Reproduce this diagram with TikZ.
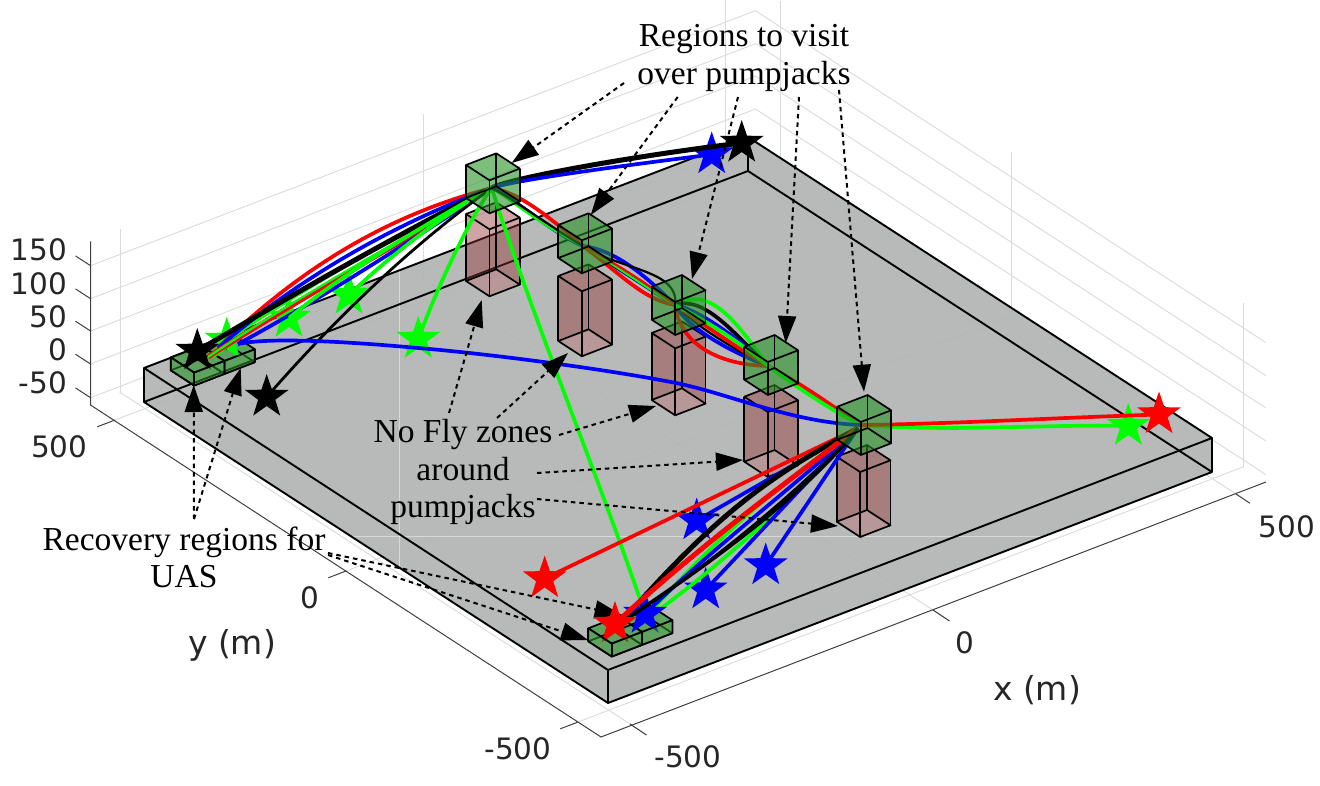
\documentclass[tikz,border=0pt]{standalone}
\usepackage{fontspec}
\setmainfont{Liberation Serif}
\newfontfamily\labfont{DejaVu Sans}
\usetikzlibrary{arrows.meta,shapes.geometric}
\definecolor{gridc}{gray}{0.86}
\definecolor{axisc}{gray}{0.25}
\definecolor{labc}{gray}{0.15}
\definecolor{slabc}{RGB}{178,181,180}
\definecolor{cubec}{RGB}{34,146,34}
\definecolor{nofly}{RGB}{145,50,50}
\definecolor{pureg}{RGB}{0,255,0}
\definecolor{purer}{RGB}{255,0,0}
\definecolor{pureb}{RGB}{0,0,255}
\tikzset{
  gridline/.style={gridc,line width=0.9pt},
  axisline/.style={axisc,line width=1pt},
  slabedge/.style={black,line width=1.9pt,line join=round},
  boxedge/.style={black,line width=1.7pt,line join=round},
  traj/.style={line width=3.7pt},
  thintraj/.style={line width=2.2pt},
  thicktraj/.style={line width=5pt},
  starmark/.style={star,star points=5,star point ratio=2.55,minimum size=46pt,inner sep=0pt,outer sep=0pt,fill=#1},
  ann/.style={black,line width=2pt,dash pattern=on 4.5pt off 4pt,-{Triangle[length=27pt,width=18pt]}},
  serifnote/.style={font=\fontsize{33.5}{37.5}\selectfont,align=center,inner sep=0pt,text=black},
  ticklab/.style={font=\labfont\fontsize{29.5}{29.5}\selectfont,text=labc,inner sep=0pt},
  axlab/.style={font=\labfont\fontsize{33}{33}\selectfont,text=labc,inner sep=0pt}
}
% prism: left-top vertex x,y, height
\newcommand{\prismhull}[5]{\fill[#4,opacity=#5] (#1,#2) -- ++(30.3,-11.7) -- ++(23.5,15.3) -- ++(0,#3) -- ++(-30.3,11.7) -- ++(-23.5,-15.3) -- cycle;}
\newcommand{\prismtop}[4]{\fill[#3,opacity=#4] (#1,#2) -- ++(30.3,-11.7) -- ++(23.5,15.3) -- ++(-30.3,11.7) -- cycle;}
\newcommand{\prismfront}[5]{\fill[#4,opacity=#5] (#1,#2) -- ++(23.5,15.3) -- ++(30.3,-11.7) -- ++(0,#3) -- ++(-30.3,11.7) -- ++(-23.5,-15.3) -- cycle;}
\newcommand{\prismright}[5]{\fill[#4,opacity=#5] ({#1+23.5},{#2+15.3}) -- ++(30.3,-11.7) -- ++(0,#3) -- ++(-30.3,11.7) -- cycle;}
\newcommand{\prismbase}[3]{\fill[white,opacity=0.2] (#1,{#2+#3}) -- ++(30.3,-11.7) -- ++(23.5,15.3) -- ++(-30.3,11.7) -- cycle;}
\newcommand{\prismedges}[3]{%
  \draw[boxedge] (#1,#2) -- ++(30.3,-11.7) -- ++(23.5,15.3) -- ++(-30.3,11.7) -- cycle;
  \draw[boxedge] (#1,{#2+#3}) -- ++(30.3,-11.7) -- ++(23.5,15.3) -- ++(-30.3,11.7) -- cycle;
  \draw[boxedge] (#1,#2) -- ++(0,#3);
  \draw[boxedge] ({#1+30.3},{#2-11.7}) -- ++(0,#3);
  \draw[boxedge] ({#1+53.8},{#2+3.6}) -- ++(0,#3);
  \draw[boxedge] ({#1+23.5},{#2+15.3}) -- ++(0,#3);
}
\newcommand{\prismfrontedges}[3]{%
  \draw[boxedge] (#1,#2) -- ++(23.5,15.3) -- ++(30.3,-11.7) -- ++(0,#3) -- ++(-30.3,11.7) -- ++(-23.5,-15.3) -- cycle;
  \draw[boxedge] ({#1+23.5},{#2+15.3}) -- ++(0,#3);
}
\newcommand{\prismrightedges}[3]{%
  \draw[boxedge] ({#1+23.5},{#2+15.3}) -- ++(30.3,-11.7) -- ++(0,#3) -- ++(-30.3,11.7) -- cycle;
}
\begin{document}
\begin{tikzpicture}[x=1pt,y=-1pt]
\useasboundingbox (0,0) rectangle (1320,786);
\fill[white] (0,0) rectangle (1320,786);
% ---- grid: walls
\foreach \zz in {265.7,298.7,331,364,397.7}{
  \draw[gridline] (90.5,\zz) -- ++(665,-255) -- ++(510.5,332);
}
\foreach \vx/\vy in {120/393,423/278,725.5/162,1243/467,1011/316,780/165}{
  \draw[gridline] (\vx,\vy) -- ++(0,-164);
}
% ---- grid: floor
\foreach \fx/\fy in {630/724,933/610,1236/494}{
  \draw[gridline] (\fx,\fy) -- ++(-510.5,-332);
}
\foreach \fx/\fy in {578/722,346/571,115/420}{
  \draw[gridline] (\fx,\fy) -- ++(665,-255);
}
% ---- axes
\draw[axisline] (90.5,241.5) -- (90.5,405) -- (601,737) -- (1266,482);
\foreach \ty in {265.7,298.7,331,364,397.7}{
  \draw[axisline] (90.5,\ty) -- ++(-15,-9.8);
}
\draw[axisline] (115,420) -- ++(-17.7,6.8);
\draw[axisline] (346,571) -- ++(-17.7,6.8);
\draw[axisline] (578,722) -- ++(-17.7,6.8);
\draw[axisline] (630,724) -- ++(16.5,11);
\draw[axisline] (933,610) -- ++(16.5,11);
\draw[axisline] (1236,494) -- ++(14,9.3);
% ---- slab
\fill[slabc,opacity=0.93] (144,368) -- (748,137) -- (1212,438) -- (1212,472) -- (608,703) -- (144,402) -- cycle;
\draw[white,opacity=0.45,line width=1pt] (399,270) -- (399,568);
\draw[white,opacity=0.45,line width=1pt] (350,536) -- (1045,536);
\draw[slabedge] (144,368) -- (748,137) -- (1212,438) -- (608,670) -- cycle;
\draw[slabedge] (144,402) -- (748,171) -- (1212,472) -- (608,703) -- cycle;
\draw[slabedge] (144,368) -- (144,402);
\draw[slabedge] (748,137) -- (748,171);
\draw[slabedge] (1212,438) -- (1212,472);
\draw[slabedge] (608,670) -- (608,703);
% ---- no fly prisms
\foreach \px/\py/\ph in {466/214/67,558.3/276/65,651.7/333/67,744.3/396.7/65,836.7/456.7/65}{
  \prismhull{\px}{\py}{\ph}{nofly}{0.44}
  \prismbase{\px}{\py}{\ph}
  \prismedges{\px}{\py}{\ph}
}
% ---- recovery tops
\foreach \px/\py in {170.7/357.3,201/345.6,588.3/628.3,618.6/616.6}{
  \prismtop{\px}{\py}{cubec}{0.59}
}
\foreach \px/\py in {201/345.6,170.7/357.3,618.6/616.6,588.3/628.3}{
  \prismedges{\px}{\py}{13}
}
% ---- waypoints
\coordinate (c1) at (491.7,188);
\coordinate (c2) at (583,246);
\coordinate (c3) at (675,305);
\coordinate (c4) at (768,366);
\coordinate (c5) at (860,425);
\coordinate (lA) at (238,344);
\coordinate (lB) at (208,357);
\coordinate (lC) at (218,348);
\coordinate (bA) at (622,622);
\coordinate (bB) at (640,624);
\coordinate (pr2) at (615,624);
\coordinate (pb5) at (645,614);
% ---- stars
\node[starmark=black] (k1) at (266.7,397) {};
\node[starmark=pureg] (g1) at (418.3,339) {};
\node[starmark=pureg] (g2) at (349,295) {};
\node[starmark=pureg] (g3) at (289,318) {};
\node[starmark=pureg] (g4) at (226.7,340) {};
\node[starmark=pureg] (g5) at (1128.3,426) {};
\node[starmark=pureb] (b1) at (711.7,154.5) {};
\node[starmark=pureb] (b2) at (696.7,520.5) {};
\node[starmark=pureb] (b3) at (765.7,565.5) {};
\node[starmark=pureb] (b4) at (705.7,589.7) {};
\node[starmark=purer] (r1) at (544.7,578.5) {};
\node[starmark=purer] (r3) at (1159,414.5) {};
\node[starmark=black] (k3) at (741.7,143) {};
\node[starmark=black] (k2) at (197.3,351) {};
% ---- trajectories c1 to top
\draw[thicktraj,black] (c1) .. controls (510,178) and (640,155) .. (k3.center);
\draw[traj,pureb] (c1) .. controls (515,180) and (620,166) .. (b1.center);
% ---- c1 to left recovery
\draw[traj,pureg] (c1) .. controls (430,215) and (300,290) .. (g4.center);
\draw[traj,purer] (c1) .. controls (400,212) and (310,258) .. (lC);
\draw[traj,pureb] (c1) .. controls (410,218) and (310,268) .. (lC);
\draw[thicktraj,black] (c1) .. controls (420,222) and (300,290) .. (k2.center);
\draw[thicktraj,purer] (c1) .. controls (425,229) and (300,298) .. (lB);
\draw[thintraj,pureg] (c1) .. controls (425,226) and (300,295) .. (lB);
\draw[traj,pureb] (c1) .. controls (435,225) and (320,300) .. (lA);
\draw[traj,pureg] (c1) .. controls (450,210) and (390,255) .. (g2.center);
\draw[traj,pureg] (c1) .. controls (440,215) and (340,275) .. (g3.center);
\draw[line width=2.8pt,black] (c1) .. controls (440,225) and (360,290) .. (k1.center);
\draw[traj,pureg] (c1) .. controls (472,215) and (440,280) .. (g1.center);
\draw[traj,pureg] (c1) .. controls (535,325) and (600,480) .. (pb5);
% ---- c1 to c2
\draw[traj,purer] (c1) .. controls (520,192) and (555,222) .. (c2);
\draw[traj,pureb] (c1) .. controls (515,198) and (550,232) .. (c2);
\draw[thintraj,pureg] (c1) .. controls (512,201) and (545,228) .. (c2);
\draw[thintraj,black] (c1) .. controls (515,200) and (555,230) .. (c2);
% ---- c2 to c3
\draw[traj,pureb] (c2) .. controls (615,250) and (645,275) .. (c3);
\draw[traj,pureb] (c2) -- (c3);
\draw[thintraj,black] (c2) .. controls (620,270) and (680,270) .. (c3);
\draw[thintraj,black] (c2) -- (c3);
\draw[traj,purer] (c2) .. controls (625,278) and (645,300) .. (c3);
\draw[thintraj,pureg] (c2) .. controls (610,262) and (650,290) .. (c3);
\draw[thintraj,purer] (c2) .. controls (610,260) and (650,285) .. (c3);
% ---- c3 to c4
\draw[traj,pureg] (c3) .. controls (710,285) and (735,320) .. (c4);
\draw[traj,black] (c3) .. controls (705,295) and (735,335) .. (c4);
\draw[traj,pureb] (c3) .. controls (700,310) and (740,340) .. (c4);
\draw[traj,pureb] (c3) .. controls (685,325) and (725,350) .. (c4);
\draw[traj,purer] (c3) .. controls (680,345) and (720,365) .. (c4);
\draw[thintraj,black] (c3) .. controls (700,330) and (740,352) .. (c4);
\draw[traj,purer] (c3) .. controls (705,325) and (740,350) .. (c4);
\draw[traj,pureg] (c3) .. controls (705,320) and (740,342) .. (c4);
% ---- c4 to c5
\draw[traj,pureb] (c4) -- (c5);
\draw[thintraj,black] (c4) .. controls (800,384) and (830,405) .. (c5);
\draw[traj,purer] (c4) .. controls (800,383) and (830,404) .. (c5);
\draw[traj,pureg] (c4) .. controls (798,388) and (828,408) .. (c5);
% ---- long blue
\draw[traj,pureb] (lA) .. controls (265,338) and (330,340) .. (418,348) .. controls (480,353) and (600,368) .. (676,383) .. controls (730,394) and (790,422) .. (c5);
% ---- c5 to right
\draw[traj,pureg] (c5) .. controls (950,432) and (1050,424) .. (g5.center);
\draw[traj,purer] (c5) .. controls (950,424) and (1050,418) .. (r3.center);
% ---- c5 fan
\coordinate (f1) at (858,428);
\draw[traj,pureb] (f1) -- (b2.center);
\draw[traj,purer] (f1) -- (r1.center);
\draw[thicktraj,black] (f1) .. controls (800,462) and (735,490) .. (bA);
\draw[traj,pureg] (f1) .. controls (800,470) and (725,525) .. (bB);
\draw[traj,pureb] (f1) .. controls (790,490) and (710,550) .. (pb5);
\draw[thintraj,black] (f1) .. controls (800,490) and (710,565) .. (bA);
\draw[traj,pureg] (f1) .. controls (800,495) and (715,570) .. (bB);
\draw[traj,pureb] (f1) -- (b4.center);
\draw[traj,pureb] (f1) -- (b3.center);
\node[starmark=pureb] (b5) at (pb5) {};
\draw[thicktraj,purer] (f1) .. controls (790,480) and (700,545) .. (pr2);
\draw[traj,black] (f1) .. controls (800,500) and (700,570) .. (bA);
% ---- upper recovery arrow runs under the red star
\coordinate (rm) at (328,553);
\coordinate (tm) at (621.7,615);
\draw[ann] (rm) -- (tm);
\node[starmark=purer] (r2) at (pr2) {};
% ---- green cubes
\foreach \px/\py in {466/165,558.3/225,651.7/286.7,744.3/346.7,837.3/406.7}{
  \prismhull{\px}{\py}{33}{cubec}{0.59}
  \prismedges{\px}{\py}{33}
}
% ---- recovery fronts
\foreach \px/\py in {201/345.6,618.6/616.6}{
  \prismright{\px}{\py}{13}{cubec}{0.59}
  \prismrightedges{\px}{\py}{13}
}
\foreach \px/\py in {170.7/357.3,588.3/628.3}{
  \prismfront{\px}{\py}{13}{cubec}{0.59}
  \prismfrontedges{\px}{\py}{13}
}
% ---- annotation sources and targets
\coordinate (ra) at (624,83);
\coordinate (rb) at (677.7,97);
\coordinate (rc) at (738,97);
\coordinate (rd) at (799,97);
\coordinate (re) at (839,90);
\coordinate (nf) at (449,413);
\coordinate (ng) at (497,418);
\coordinate (nh) at (559,435);
\coordinate (ni) at (537,473);
\coordinate (nj) at (537,499);
\coordinate (rk) at (194,519);
\coordinate (rl) at (194,519);
\coordinate (rn) at (328,555);
\coordinate (ta) at (511.7,163);
\coordinate (tb) at (590.7,215);
\coordinate (tc) at (692,279);
\coordinate (td) at (785.7,343);
\coordinate (te) at (864,391.7);
\coordinate (tf) at (481.7,300);
\coordinate (tg) at (568,353);
\coordinate (th) at (656,406);
\coordinate (ti) at (743,460);
\coordinate (tj) at (838,526);
\coordinate (tk) at (193.7,385);
\coordinate (tl) at (240.7,368);
\coordinate (tn) at (588,640);
\foreach \s/\t in {ra/ta,rb/tb,rc/tc,rd/td,re/te,nf/tf,ng/tg,nh/th,ni/ti,nj/tj,rk/tk,rl/tl,rn/tn}{
  \draw[ann] (\s) -- (\t);
}
% ---- text
\node[serifnote] (regions) at (744,58) {Regions to visit\\over pumpjacks};
\node[serifnote] (noflytext) at (463,472) {No Fly zones\\around\\pumpjacks};
\node[serifnote] (recov) at (184,557.5) {Recovery regions for\\UAS};
% ---- tick labels
\node[ticklab,anchor=east] (z150) at (67,250) {150};
\node[ticklab,anchor=east] (z100) at (67,284) {100};
\node[ticklab,anchor=east] (z50) at (67,317) {50};
\node[ticklab,anchor=east] (z0) at (67,350) {0};
\node[ticklab,anchor=east] (zm50) at (67,383) {-50};
\node[ticklab] (y500) at (59.3,447) {500};
\node[ticklab] (y0) at (310,598) {0};
\node[ticklab] (ym500) at (518,749) {-500};
\node[ticklab] (xm500) at (688,757) {-500};
\node[ticklab] (x0) at (965,643) {0};
\node[ticklab] (x500) at (1287,527) {500};
\node[axlab] (ylab) at (232,645) {y (m)};
\node[axlab] (xlab) at (1037,690) {x (m)};
\end{tikzpicture}
\end{document}
